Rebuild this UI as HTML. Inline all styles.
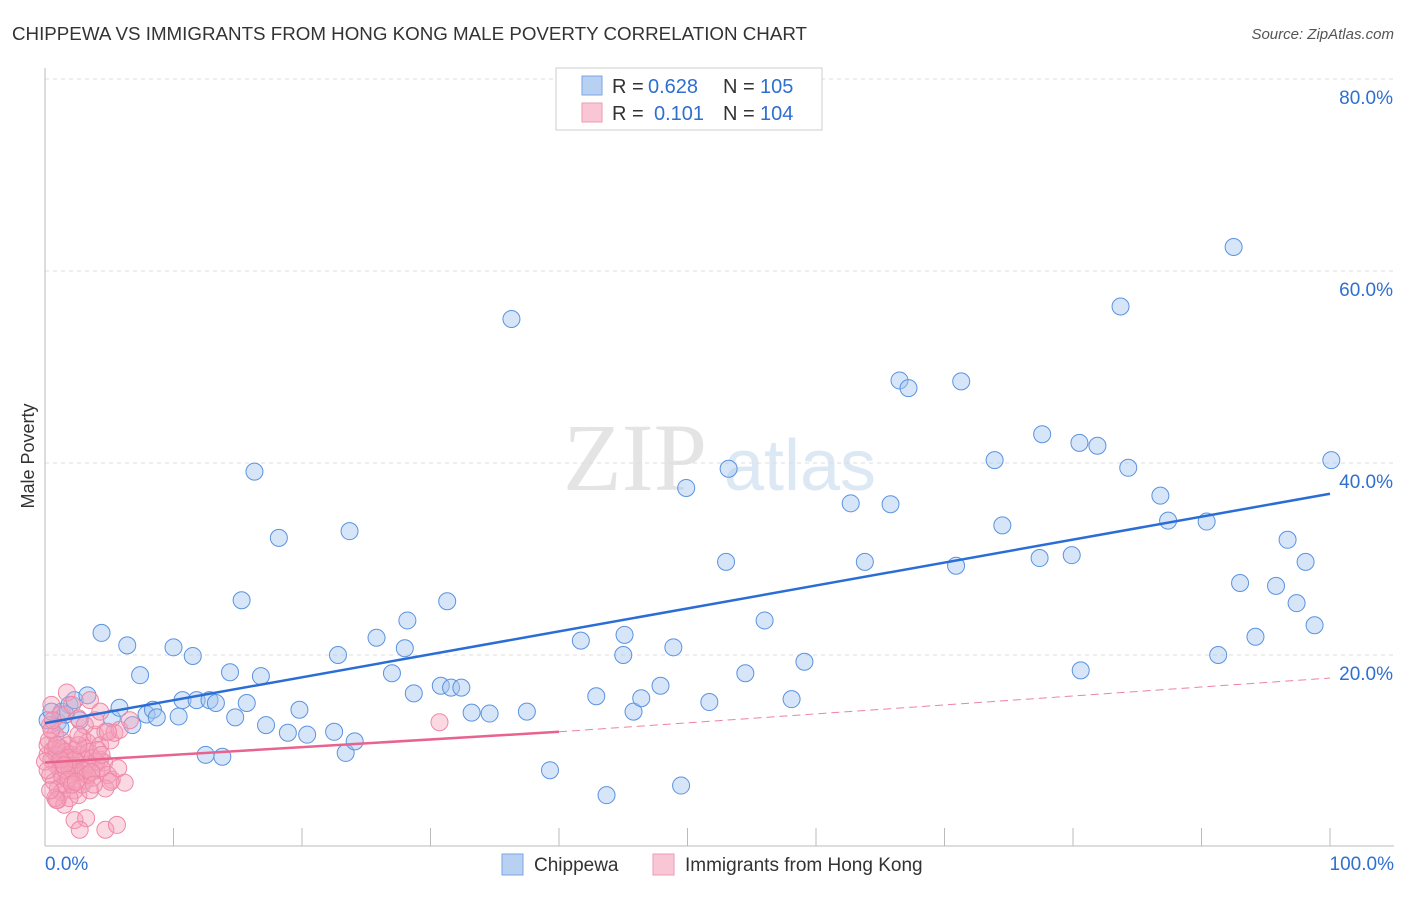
<!DOCTYPE html>
<html><head><meta charset="utf-8"><style>
body{margin:0;background:#fff;font-family:"Liberation Sans",sans-serif}
</style></head><body>
<svg id="chart" width="1406" height="892" xmlns="http://www.w3.org/2000/svg">
<text x="12" y="40" font-size="18" fill="#333" textLength="795" lengthAdjust="spacingAndGlyphs">CHIPPEWA VS IMMIGRANTS FROM HONG KONG MALE POVERTY CORRELATION CHART</text>
<text x="1394" y="39" font-size="15" fill="#555" font-style="italic" text-anchor="end">Source: ZipAtlas.com</text>
<text x="34" y="456" font-size="18" fill="#333" transform="rotate(-90 34 456)" text-anchor="middle">Male Poverty</text>
<g><text x="635" y="490" font-size="96" fill="#e4e4e4" font-family="Liberation Serif" text-anchor="middle">ZIP</text><text x="800" y="490" font-size="72" fill="#dde8f5" text-anchor="middle">atlas</text></g>
<g id="grid"></g><g id="axes"></g><g id="pts"></g><g id="lines"></g>
<g>
<rect x="556" y="68" width="266" height="62" fill="#fff" stroke="#ccc"/>
<rect x="582" y="76" width="20" height="19" fill="#b8d1f3" stroke="#7ea6e0"/>
<rect x="582" y="103" width="20" height="19" fill="#f9c6d5" stroke="#ef9ab4"/>
<g font-size="20" fill="#333">
<text x="612" y="93">R =</text><text x="648" y="93" fill="#2f6fd0">0.628</text><text x="723" y="93">N =</text><text x="760" y="93" fill="#2f6fd0">105</text>
<text x="612" y="120">R =</text><text x="654" y="120" fill="#2f6fd0">0.101</text><text x="723" y="120">N =</text><text x="760" y="120" fill="#2f6fd0">104</text>
</g>
</g>
<g>
<rect x="502" y="854" width="21" height="21" fill="#b8d1f3" stroke="#7ea6e0"/>
<text x="534" y="871" font-size="19" fill="#333">Chippewa</text>
<rect x="653" y="854" width="21" height="21" fill="#f9c6d5" stroke="#ef9ab4"/>
<text x="685" y="871" font-size="19" fill="#333">Immigrants from Hong Kong</text>
</g>
</svg>
<script>
const blueX=[0.8,1.0,1.3,1.9,2.3,2.7,3.3,4.4,5.2,5.8,6.4,6.8,7.4,7.9,8.4,8.7,10.0,10.4,10.7,11.5,11.8,12.5,12.8,13.3,13.8,14.4,14.8,15.3,15.7,16.3,16.8,17.2,18.2,18.9,19.8,20.4,22.5,22.8,23.4,23.7,24.1,25.8,27.0,28.0,28.2,28.7,30.8,31.3,31.6,32.4,33.2,34.6,36.3,37.5,39.3,41.7,42.9,43.7,45.0,45.1,45.8,46.4,47.9,48.9,49.5,49.9,51.7,53.0,53.2,54.5,56.0,58.1,59.1,62.7,63.8,65.8,66.5,67.2,70.9,71.3,73.9,74.5,77.4,77.6,79.9,80.5,80.6,81.9,83.7,84.3,86.8,87.4,90.4,91.3,92.5,93.0,94.2,95.8,96.7,97.4,98.1,98.8,100.1,1.2,1.6,0.2,0.5];
const blueY=[10.3,13.0,14.1,14.8,15.3,13.2,15.8,22.3,13.4,14.5,21.0,12.7,17.9,13.8,14.3,13.5,20.8,13.6,15.3,19.9,15.3,9.6,15.3,15.0,9.4,18.2,13.5,25.7,15.0,39.1,17.8,12.7,32.2,11.9,14.3,11.7,12.0,20.0,9.8,32.9,11.0,21.8,18.1,20.7,23.6,16.0,16.8,25.6,16.6,16.6,14.0,13.9,55.0,14.1,8.0,21.5,15.7,5.4,20.0,22.1,14.1,15.5,16.8,20.8,6.4,37.4,15.1,29.7,39.4,18.1,23.6,15.4,19.3,35.8,29.7,35.7,48.6,47.8,29.3,48.5,40.3,33.5,30.1,43.0,30.4,42.1,18.4,41.8,56.3,39.5,36.6,34.0,33.9,20.0,62.5,27.5,21.9,27.2,32.0,25.4,29.7,23.1,40.3,12.4,13.8,13.2,14.1];
const pinkX=[1.7,3.5,0.5,1.2,2.1,2.6,0.4,0.8,1.3,1.8,2.3,2.9,3.3,3.9,4.3,4.7,5.1,0.2,0.5,0.9,1.2,1.5,1.8,2.1,2.4,2.7,3.0,3.3,3.7,4.0,4.3,4.6,4.9,5.2,0.4,0.7,1.0,1.3,1.6,1.9,2.3,2.6,2.9,3.2,3.5,0.2,0.6,0.9,1.2,1.6,1.9,2.2,2.5,2.8,3.1,3.4,3.7,4.0,4.4,1.0,1.5,1.9,0.8,4.7,5.1,5.4,5.8,6.2,6.6,5.7,3.9,3.1,4.3,4.9,2.3,3.2,2.7,4.7,5.6,0.9,1.3,1.6,1.9,2.3,2.6,3.0,3.3,3.6,0,0.2,0.3,0.5,0.6,30.7,4.1,4.4,1.2,1.5,1.8,2.1,2.4,0.9,0.4,3.8,2.6];
const pinkY=[16.1,15.3,14.8,13.8,14.8,13.4,12.7,11.7,11.1,10.6,10.1,11.4,10.9,11.7,10.6,12.0,11.1,9.6,9.1,8.5,8.0,9.3,8.9,9.6,8.2,7.8,9.1,8.5,7.2,8.0,9.1,8.8,7.5,7.0,7.5,6.8,6.1,5.7,6.5,7.2,5.9,5.4,6.5,7.0,5.9,10.6,10.1,9.6,10.3,9.9,9.3,8.5,7.8,9.6,10.3,9.9,9.3,8.9,8.2,4.9,4.4,5.1,5.1,6.1,6.8,11.9,12.2,6.7,13.2,8.2,13.2,12.7,14.1,12.0,2.8,3.0,1.8,1.8,2.3,4.9,7.5,8.0,8.2,9.1,10.6,8.0,7.5,7.8,8.9,8.0,11.1,12.2,13.2,13.0,10.1,9.6,9.1,8.5,7.0,6.5,6.8,10.6,5.9,6.5,11.7];
const xTicks=[0,10,20,30,40,50,60,70,80,90,100];
const yTicks=[20,40,60,80];
const blueTrend=[0,12.9,100,36.8];
const pinkTrend=[0,8.8,40,12.0,100,17.6];
const NS='http://www.w3.org/2000/svg';
const X=v=>45+v*12.85, Y=v=>847-v*9.6;
function mk(t,a,p){const e=document.createElementNS(NS,t);for(const k in a)e.setAttribute(k,a[k]);p.appendChild(e);return e;}
const grid=document.getElementById('grid'),axes=document.getElementById('axes'),pts=document.getElementById('pts'),lines=document.getElementById('lines');
yTicks.forEach(t=>{
 const l=mk('line',{x1:45,x2:1394,y1:Y(t),y2:Y(t),stroke:'#ddd','stroke-dasharray':'4,4'},grid);
 
 
 const tx=mk('text',{x:1393,y:Y(t)+25,'font-size':19,fill:'#2f6fd0','text-anchor':'end'},axes);
 tx.textContent=t.toFixed(1)+'%';
 
 
});
const xa=mk('line',{x1:45,x2:1394,y1:846,y2:846,stroke:'#bbb'},axes);


const ya=mk('line',{x1:45,x2:45,y1:68,y2:846,stroke:'#bbb'},axes);


xTicks.forEach(t=>{
 const l=mk('line',{x1:X(t),x2:X(t),y1:828,y2:846,stroke:'#bbb'},axes);
 
 
});
[[0,'0.0%','start',45],[100,'100.0%','end',1394]].forEach(d=>{
 const tx=mk('text',{x:d[3],y:870,'font-size':19,fill:'#2f6fd0','text-anchor':d[2]},axes);
 tx.textContent=d[1];
 
 
});
blueX.forEach((v,i)=>{
 const c=mk('circle',{cx:X(v),cy:Y(blueY[i]),r:8.5,fill:'rgba(165,198,240,0.45)',stroke:'#5b93e0','stroke-width':1},pts);
 
 
});
pinkX.forEach((v,i)=>{
 const c=mk('circle',{cx:X(v),cy:Y(pinkY[i]),r:8.5,fill:'rgba(245,160,185,0.4)',stroke:'#ee88a8','stroke-width':1},pts);
 
 
});
const bl=mk('line',{x1:X(blueTrend[0]),y1:Y(blueTrend[1]),x2:X(blueTrend[2]),y2:Y(blueTrend[3]),stroke:'#2a6dd6','stroke-width':2.5},lines);


const pl=mk('line',{x1:X(pinkTrend[0]),y1:Y(pinkTrend[1]),x2:X(pinkTrend[2]),y2:Y(pinkTrend[3]),stroke:'#e8638d','stroke-width':2.5},lines);


const pd=mk('line',{x1:X(pinkTrend[2]),y1:Y(pinkTrend[3]),x2:X(pinkTrend[4]),y2:Y(pinkTrend[5]),stroke:'#e8638d','stroke-width':1,'stroke-dasharray':'8,5','stroke-opacity':0.8},lines);


</script>
</body></html>
